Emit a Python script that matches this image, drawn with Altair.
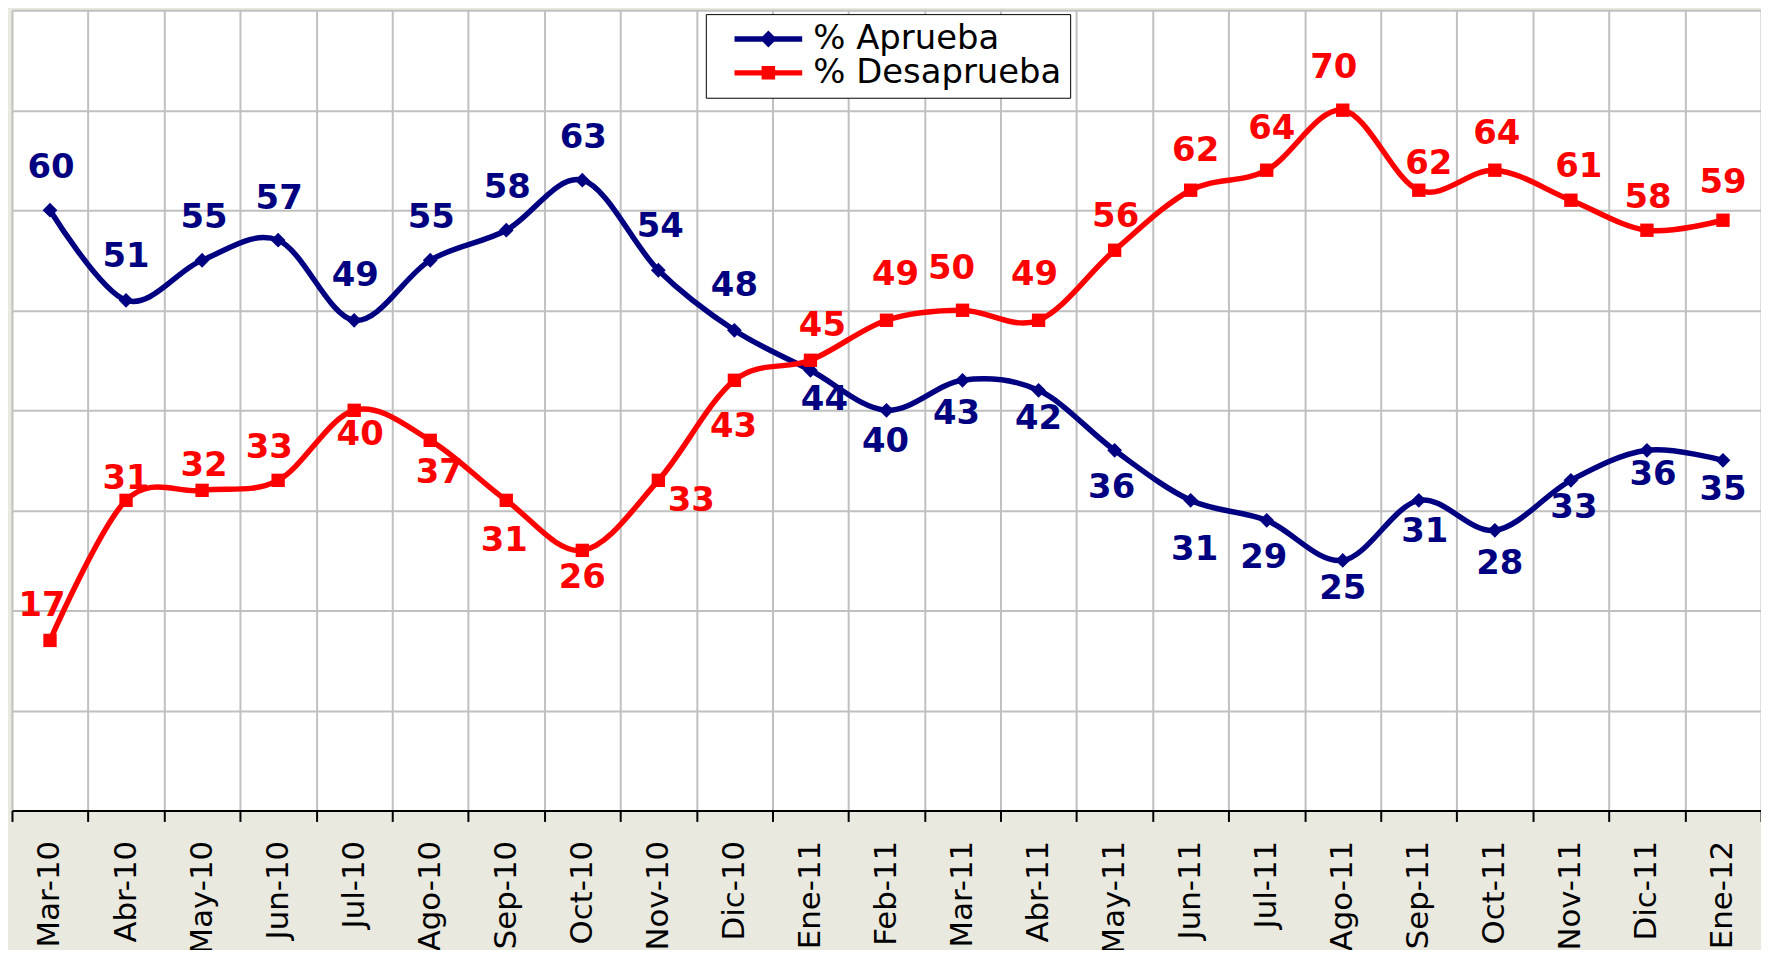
import altair as alt
import pandas as pd

months = ["Mar-10", "Abr-10", "May-10", "Jun-10", "Jul-10", "Ago-10", "Sep-10", "Oct-10",
          "Nov-10", "Dic-10", "Ene-11", "Feb-11", "Mar-11", "Abr-11", "May-11", "Jun-11",
          "Jul-11", "Ago-11", "Sep-11", "Oct-11", "Nov-11", "Dic-11", "Ene-12"]
aprueba = [60, 51, 55, 57, 49, 55, 58, 63, 54, 48, 44, 40, 43, 42, 36, 31, 29, 25, 31, 28, 33, 36, 35]
desaprueba = [17, 31, 32, 33, 40, 37, 31, 26, 33, 43, 45, 49, 50, 49, 56, 62, 64, 70, 62, 64, 61, 58, 59]
series_names = ["% Aprueba", "% Desaprueba"]
series_colors = ["#000080", "#FF0000"]

# label placement (pixel offsets of each data label from its point)
aprueba_dx = [1, 0, 2, 1, 1, 1, 1, 1, 2, 0, 14, -1, -6, 0, -3, 4, -3, 0, 6, 5, 3, 6, 0]
aprueba_dy = [-42, -43, -42, -41, -44, -42, -42, -42, -43, -44, 30, 32, 34, 29, 38, 50, 38, 29, 32, 34, 28, 25, 30]
desaprueba_dx = [-8, 0, 2, -9, 6, 9, -2, 0, 33, -1, 12, 9, -11, -4, 1, 5, 5, -9, 10, 2, 8, 1, 0]
desaprueba_dy = [-35, -21, -24, -32, 25, 33, 41, 28, 21, 47, -34, -45, -41, -45, -33, -39, -41, -42, -26, -36, -33, -32, -37]

rows = []
for name, vals, dxs, dys in [(series_names[0], aprueba, aprueba_dx, aprueba_dy),
                             (series_names[1], desaprueba, desaprueba_dx, desaprueba_dy)]:
    for m, v, dx, dy in zip(months, vals, dxs, dys):
        rows.append({"month": m, "value": v, "series": name, "dx": dx, "dy": dy})
df = pd.DataFrame(rows)

x_enc = alt.X(
    "month:N", sort=months, bandPosition=0.5,
    scale=alt.Scale(type="band", paddingInner=0, paddingOuter=0),
    axis=alt.Axis(title=None, labelAngle=-90, tickBand="extent", grid=True,
                  gridColor="#C0C0C0", gridWidth=2, domainColor="black", domainWidth=2,
                  tickColor="black", tickWidth=2, tickSize=11, labelPadding=19,
                  labelFont="DejaVu Sans", labelFontSize=31, labelColor="black"),
)
y_enc = alt.Y(
    "value:Q", scale=alt.Scale(domain=[0, 80], nice=False, zero=True),
    axis=alt.Axis(title=None, labels=False, ticks=False, domain=False, grid=True,
                  values=list(range(0, 81, 10)), gridColor="#C0C0C0", gridWidth=2),
)

# legend symbols: a line segment with the series marker in its middle
path_a = "M0.45,-0.32L8.45,-0.32L8.45,0.32L0.45,0.32Z M4.45,-1L5.45,0L4.45,1L3.45,0Z"
path_d = "M0.45,-0.32L8.45,-0.32L8.45,0.32L0.45,0.32Z M3.65,-0.8L5.25,-0.8L5.25,0.8L3.65,0.8Z"

legend = alt.Legend(
    title=None, orient="none", legendX=697, legendY=4, direction="vertical",
    labelFont="DejaVu Sans", labelFontSize=34, labelColor="black", labelOffset=66,
    labelLimit=0,
    symbolSize=289, symbolStrokeWidth=0, symbolOpacity=1,
    strokeColor="black", fillColor="white", padding=8, rowPadding=0,
)

base = alt.Chart(df)
layers = []
for name, col, shp, sz in [(series_names[0], series_colors[0], "diamond", 220),
                           (series_names[1], series_colors[1], "square", 180)]:
    sub = base.transform_filter(alt.datum.series == name)
    layers.append(sub.mark_line(interpolate="cardinal", strokeWidth=5.5, color=col).encode(x=x_enc, y=y_enc))
    layers.append(sub.mark_point(filled=True, size=sz, opacity=1, shape=shp, color=col).encode(x=x_enc, y=y_enc))
for name, col in zip(series_names, series_colors):
    sub = base.transform_filter(alt.datum.series == name)
    layers.append(sub.mark_text(font="DejaVu Sans", fontWeight="bold", fontSize=34,
                                baseline="middle", align="center", color=col,
                                dx=alt.ExprRef(expr="datum.dx"), dy=alt.ExprRef(expr="datum.dy")).encode(
        x=x_enc, y=y_enc, text=alt.Text("value:Q")))

# invisible layer that only carries the legend
legend_layer = base.mark_point(filled=True, opacity=0, size=1).encode(
    x=x_enc, y=y_enc,
    color=alt.Color("series:N", scale=alt.Scale(domain=series_names, range=series_colors), legend=legend),
    shape=alt.Shape("series:N", scale=alt.Scale(domain=series_names, range=[path_a, path_d]), legend=legend),
)
layers.append(legend_layer)

chart = alt.layer(*layers).properties(
    width=1757, height=804,
    background="#E9E9DF",
    autosize=alt.AutoSizeParams(type="none"),
    padding={"left": 4, "top": 0, "right": 0, "bottom": 138},
).configure_view(fill="white", stroke=None)

chart.save("out.html", embed_options={"renderer": "svg", "actions": False})
